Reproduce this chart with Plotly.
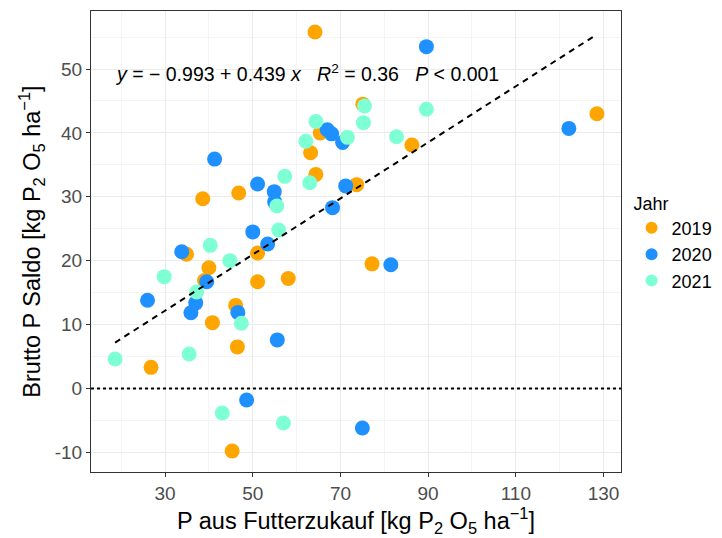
import numpy as np
import plotly.graph_objects as go

# ---- data ----
x2019 = [64.2, 128.5, 75.1, 65.4, 86.3, 63.2, 64.4, 73.7, 46.8, 38.6, 51.1, 34.9,
         40.0, 51.1, 58.1, 39.0, 46.1, 40.8, 46.5, 26.8, 77.2, 45.3]
y2019 = [55.8, 43.0, 44.5, 40.0, 38.1, 36.9, 33.5, 31.9, 30.6, 29.7, 21.2, 21.0,
         18.9, 16.7, 17.2, 16.9, 13.0, 10.3, 6.5, 3.3, 19.5, -9.8]

x2020 = [89.6, 122.1, 67.0, 68.0, 70.5, 41.3, 71.2, 51.1, 54.9, 55.0, 68.2, 50.0,
         53.4, 33.8, 39.5, 37.0, 26.0, 35.9, 46.6, 55.6, 81.5, 48.6, 75.0]
y2020 = [53.5, 40.7, 40.5, 39.85, 38.5, 35.9, 31.7, 32.0, 30.8, 29.2, 28.3, 24.5,
         22.6, 21.4, 16.7, 13.4, 13.8, 11.85, 11.9, 7.6, 19.35, -1.8, -6.2]

x2021 = [75.5, 89.6, 64.4, 75.25, 71.6, 82.8, 62.1, 57.3, 63.0, 55.5, 55.9, 40.3,
         44.8, 29.8, 37.2, 47.4, 35.5, 18.6, 43.05, 57.0]
y2021 = [44.2, 43.7, 41.8, 41.6, 39.3, 39.4, 38.7, 33.2, 32.2, 28.55, 24.8, 22.4,
         20.0, 17.5, 15.1, 10.2, 5.4, 4.6, -3.85, -5.4]

years = ["2019", "2020", "2021"]
colors = ["#FFA500", "#1E90FF", "#7FFFD4"]

intercept = -0.993
slope = 0.439
r2_text = "0.36"
p_text = "0.001"

x_ticks = [30, 50, 70, 90, 110, 130]
x_ticklabels = ["30", "50", "70", "90", "110", "130"]
y_ticks = [-10, 0, 10, 20, 30, 40, 50]
y_ticklabels = ["-10", "0", "10", "20", "30", "40", "50"]

# ---- figure ----
fig = go.Figure()

all_x = np.array(x2019 + x2020 + x2021)
all_y = np.array(y2019 + y2020 + y2021)
xmin, xmax = all_x.min(), all_x.max()
ymin, ymax = all_y.min(), all_y.max()
xpad = 0.05 * (xmax - xmin)
ypad = 0.05 * (ymax - ymin)

for xs, ys, name, col in zip([x2019, x2020, x2021], [y2019, y2020, y2021], years, colors):
    fig.add_trace(go.Scatter(
        x=xs, y=ys, mode="markers", name=name,
        marker=dict(color=col, size=15, line=dict(width=0)),
    ))

# regression line (dashed)
xl = np.linspace(xmin, xmax, 50)
fig.add_trace(go.Scatter(
    x=xl, y=intercept + slope * xl, mode="lines", showlegend=False,
    line=dict(color="black", width=2, dash="6px,5px"), hoverinfo="skip",
))

# dotted zero line
fig.add_shape(type="line", xref="paper", x0=0, x1=1, yref="y", y0=0, y1=0,
              line=dict(color="black", width=2, dash="dot"), layer="above")

fig.add_annotation(
    x=xmin - 0.5, y=49.4, xref="x", yref="y", xanchor="left", yanchor="middle",
    showarrow=False,
    text=("<i>y</i> = \u2212 0.993 + 0.439 <i>x</i>\u00a0\u00a0\u00a0<i>R</i><sup>2</sup> = "
          + r2_text + "\u00a0\u00a0\u00a0<i>P</i> &lt; " + p_text),
    font=dict(family="Liberation Sans, Arial", size=19.5, color="black"),
)

axis_common = dict(
    showline=True, linecolor="#333333", linewidth=1.2, mirror=True,
    ticks="outside", ticklen=4, tickcolor="#333333", tickwidth=1,
    showgrid=True, gridcolor="#EBEBEB", gridwidth=1,
    zeroline=False, automargin=False,
    tickfont=dict(family="Liberation Sans, Arial", size=19, color="#4D4D4D"),
)

fig.update_xaxes(
    **axis_common,
    range=[xmin - xpad, xmax + xpad],
    tickvals=x_ticks, ticktext=x_ticklabels,
    minor=dict(dtick=10, tick0=10, showgrid=True, gridcolor="#F4F4F4", gridwidth=1, ticks=""),
    title=dict(text="P aus Futterzukauf [kg P<sub>2</sub> O<sub>5</sub> ha<sup>\u22121</sup>]",
               font=dict(family="Liberation Sans, Arial", size=23.5, color="black"), standoff=5),
)
fig.update_yaxes(
    **axis_common,
    range=[ymin - ypad, ymax + ypad],
    tickvals=y_ticks, ticktext=y_ticklabels,
    minor=dict(dtick=5, tick0=-5, showgrid=True, gridcolor="#F4F4F4", gridwidth=1, ticks=""),
    title=dict(text="Brutto P Saldo [kg P<sub>2</sub> O<sub>5</sub> ha<sup>\u22121</sup>]",
               font=dict(family="Liberation Sans, Arial", size=23.5, color="black"), standoff=7),
)

fig.update_layout(
    width=722, height=538,
    margin=dict(l=91, r=101, t=11, b=66, autoexpand=False),
    paper_bgcolor="white", plot_bgcolor="white",
    font=dict(family="Liberation Sans, Arial"),
    legend=dict(
        title=dict(text="Jahr", font=dict(size=18, color="black")),
        font=dict(size=18, color="black"),
        x=1.02, xanchor="left", y=0.62, yanchor="top",
        tracegroupgap=0, itemsizing="constant",
        bgcolor="rgba(0,0,0,0)",
    ),
)

fig.write_html("out.html", config={"displayModeBar": False},
               post_script="document.body.style.margin='0';")
